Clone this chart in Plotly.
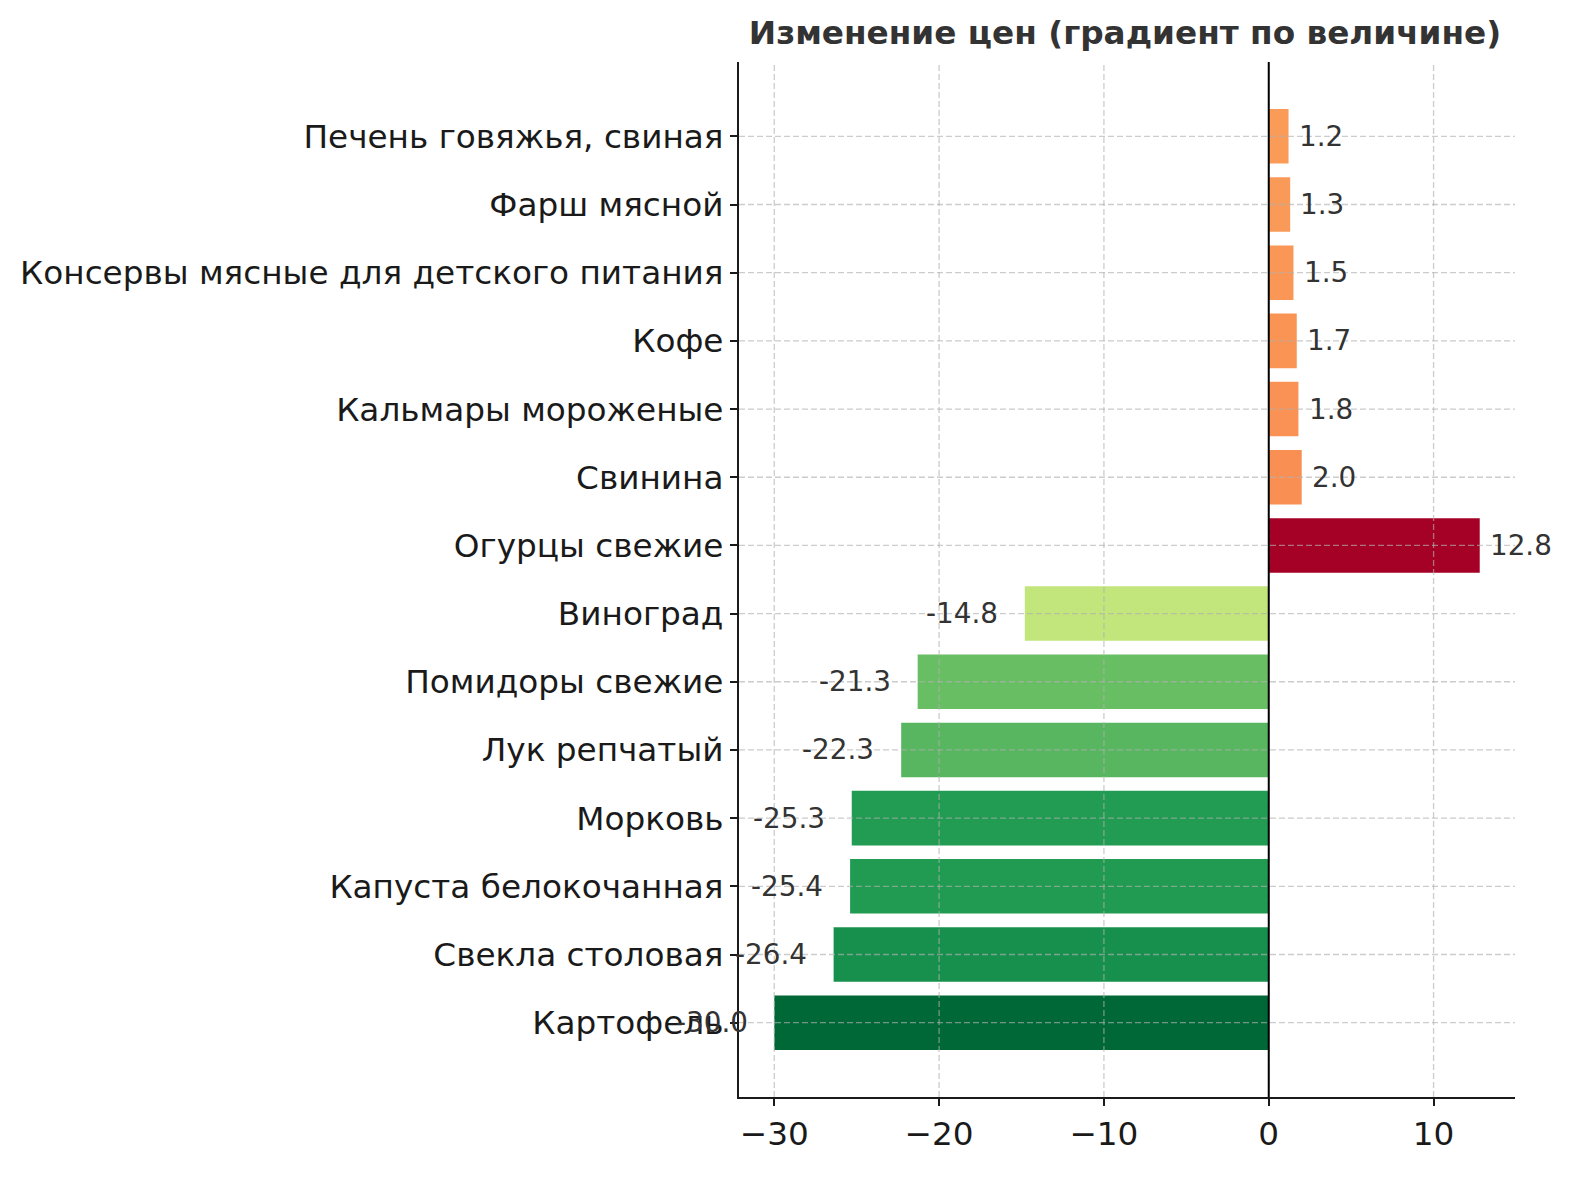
import plotly.graph_objects as go
from plotly.colors import sample_colorscale, diverging

# bottom to top, as drawn
products = [
    "Картофель",
    "Свекла столовая",
    "Капуста белокочанная",
    "Морковь",
    "Лук репчатый",
    "Помидоры свежие",
    "Виноград",
    "Огурцы свежие",
    "Свинина",
    "Кальмары мороженые",
    "Кофе",
    "Консервы мясные для детского питания",
    "Фарш мясной",
    "Печень говяжья, свиная",
]
changes = [-30.0, -26.4, -25.4, -25.3, -22.3, -21.3, -14.8, 12.8, 2.0, 1.8, 1.7, 1.5, 1.3, 1.2]
x_ticks = [-30, -20, -10, 0, 10]

FONT = "DejaVu Sans"
# page body has an 8px margin, so keep the whole page inside the window
W, H = 1579, 1164
L, R, T, B = 727, 72, 54, 75

vmin, vmax = min(changes), max(changes)
norm = [(v - vmin) / (vmax - vmin) for v in changes]
colors = sample_colorscale(diverging.RdYlGn_r, norm)

fig = go.Figure()
fig.add_trace(go.Bar(
    x=changes, y=list(range(len(products))), orientation="h",
    marker=dict(color=colors, line=dict(width=0)), width=0.8,
    hoverinfo="x+y",
))

# value labels next to the bars
for i, v in enumerate(changes):
    if v > 0:
        fig.add_annotation(x=v + 0.5, y=i, text=f"{v:.1f}", xanchor="left",
                           yanchor="middle", showarrow=False,
                           font=dict(family=FONT, size=27.8, color="#333333"))
    else:
        fig.add_annotation(x=v - 1.5, y=i, text=f"{v:.1f}", xanchor="right",
                           yanchor="middle", showarrow=False,
                           font=dict(family=FONT, size=27.8, color="#333333"))

grid = dict(color="rgba(176,176,176,0.65)", width=1.3, dash="6px,3px")
for t in x_ticks:
    fig.add_shape(type="line", xref="x", yref="paper", x0=t, x1=t, y0=0, y1=1,
                  line=grid, layer="above")
for i in range(len(products)):
    fig.add_shape(type="line", xref="paper", yref="y", x0=0, x1=1, y0=i, y1=i,
                  line=grid, layer="above")
# zero line
fig.add_shape(type="line", xref="x", yref="paper", x0=0, x1=0, y0=0, y1=1,
              line=dict(color="black", width=2), layer="above")

span = vmax - vmin
fig.update_layout(
    width=W, height=H,
    margin=dict(l=L, r=R, t=T, b=B),
    paper_bgcolor="white", plot_bgcolor="white",
    showlegend=False,
    title=dict(text="<b>Изменение цен (градиент по величине)</b>",
               x=(L + (W - R)) / 2 / W, xanchor="center",
               y=1 - 25 / H, yanchor="middle",
               font=dict(family=FONT, size=32.7, color="#333333")),
    font=dict(family=FONT, color="#1a1a1a"),
)
fig.update_xaxes(
    range=[vmin - 0.05 * span, vmax + 0.05 * span],
    tickvals=x_ticks, showgrid=False, zeroline=False,
    showline=True, linecolor="#1a1a1a", linewidth=2,
    ticks="outside", ticklen=7, tickwidth=1.6, tickcolor="#1a1a1a",
    tickfont=dict(family=FONT, size=32.7, color="#1a1a1a"),
)
fig.update_yaxes(
    range=[-1.09, len(products) - 1 + 1.09],
    tickvals=list(range(len(products))), ticktext=products,
    showgrid=False, zeroline=False,
    showline=True, linecolor="#1a1a1a", linewidth=2,
    ticks="outside", ticklen=7, tickwidth=1.6, tickcolor="#1a1a1a",
    tickfont=dict(family=FONT, size=32.7, color="#1a1a1a"),
)

fig.write_html("out.html")
